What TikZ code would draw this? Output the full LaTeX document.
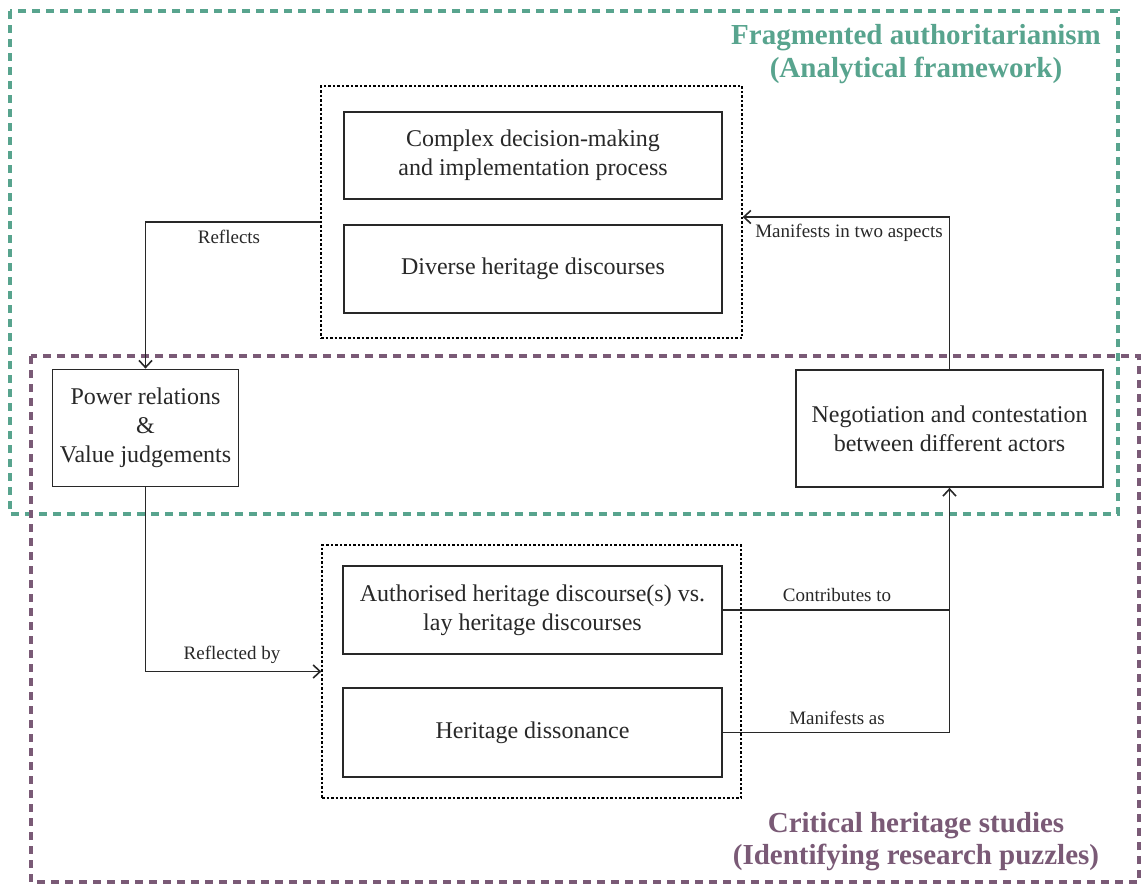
\documentclass[tikz,border=0pt]{standalone}
\usepackage{fontspec}
\setmainfont{Liberation Serif}
\usetikzlibrary{arrows.meta}
\definecolor{tealc}{RGB}{88,164,142}
\definecolor{plum}{RGB}{122,90,118}
\definecolor{ink}{RGB}{40,40,40}
\begin{document}
\begin{tikzpicture}[x=1pt,y=-1pt,
  box/.style={draw=ink, line width=1.8pt, text=ink, font=\fontsize{24}{29}\selectfont, align=center, inner sep=0pt},
  grp/.style={draw=black, line width=1.3pt, dash pattern=on 2.5pt off 2pt, inner sep=0pt},
  conn/.style={draw=ink, line width=1.6pt},
  arr/.style={conn, -{Straight Barb[length=7pt,width=13pt,line width=1.6pt]}},
  lab/.style={text=ink, font=\fontsize{19}{23}\selectfont, inner sep=0pt},
  ttl/.style={font=\fontsize{29}{32}\bfseries\selectfont, inner sep=0pt},
  frame/.style={line width=3.3pt, dash pattern=on 8pt off 6pt},
]
\useasboundingbox (0,0) rectangle (1143,884);
\fill[white] (0,0) rectangle (1143,884);

% frameworks
\draw[frame, draw=tealc] (10,11) rectangle (1118,514);
\draw[frame, draw=plum] (31,356) rectangle (1139,882);

\node[ttl, text=tealc] (t1) at (916,38) {Fragmented authoritarianism};
\node[ttl, text=tealc] (t2) at (916,70) {(Analytical framework)};
\node[ttl, text=plum] (t3) at (916,826) {Critical heritage studies};
\node[ttl, text=plum] (t4) at (916,857) {(Identifying research puzzles)};

% groups
\node[grp, minimum width=421pt, minimum height=252pt] (d1) at (531.5,212) {};
\node[grp, minimum width=419pt, minimum height=253pt] (d2) at (531.5,671.5) {};

% boxes
\node[box, minimum width=378pt, minimum height=87pt] (b1) at (533,155.5) {Complex decision-making\\and implementation process};
\node[box, minimum width=378pt, minimum height=88pt] (b2) at (533,269) {Diverse heritage discourses};
\node[box, minimum width=379pt, minimum height=88pt] (b3) at (532.5,610) {Authorised heritage discourse(s) vs.\\lay heritage discourses};
\node[box, minimum width=379pt, minimum height=89pt] (b4) at (532.5,732.5) {Heritage dissonance};
\node[box, minimum width=186pt, minimum height=117pt] (pw) at (145.5,428) {Power relations\\\&\\Value judgements};
\node[box, minimum width=307pt, minimum height=117pt] (ng) at (949.5,428.5) {Negotiation and contestation\\between different actors};

% connectors
\draw[arr] ([yshift=-10pt]d1.west) -| (pw.north);
\node[lab] (l1) at (229,237) {Reflects};
\draw[arr] (pw.south) |- (d2.west);
\node[lab] (l2) at (232,655) {Reflected by};
\draw[arr] (ng.north) |- ([yshift=-5pt]d1.east);
\node[lab] (l3) at (849,233) {Manifests in two aspects};
\draw[arr] (b3.east) -| (ng.south);
\node[lab] (l4) at (837,595) {Contributes to};
\coordinate (j) at (ng.south |- b3.east);
\draw[conn] (b4.east) -| (j);
\node[lab] (l5) at (837,718) {Manifests as};
\end{tikzpicture}
\end{document}
